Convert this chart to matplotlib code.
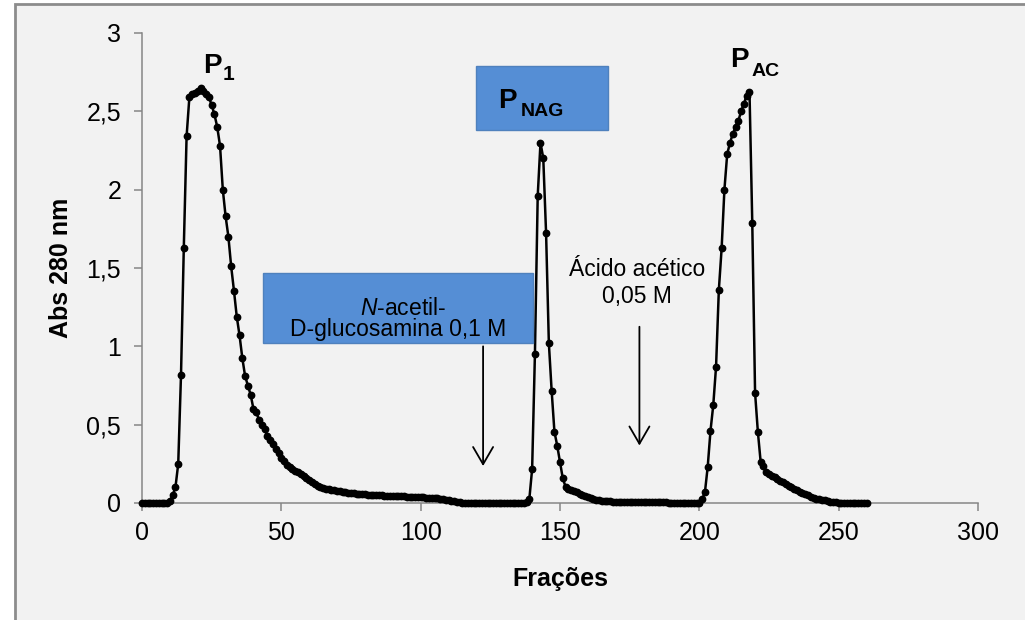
import matplotlib
matplotlib.use('Agg')
import matplotlib.pyplot as plt
from matplotlib.patches import Rectangle

# Data

fractions = list(range(0, 261))

abs_280 = [
    # 0-9
    0, 0, 0, 0, 0, 0, 0, 0, 0, 0,
    # 10-19
    0.01, 0.05, 0.10, 0.25, 0.82, 1.63, 2.34, 2.59, 2.61, 2.62,
    # 20-29
    2.63, 2.65, 2.63, 2.61, 2.59, 2.54, 2.48, 2.40, 2.28, 2.00,
    # 30-39
    1.83, 1.70, 1.51, 1.355, 1.19, 1.07, 0.925, 0.81, 0.75, 0.69,
    # 40-49
    0.60, 0.58, 0.53, 0.50, 0.47, 0.43, 0.40, 0.375, 0.345, 0.32,
    # 50-59
    0.29, 0.27, 0.245, 0.23, 0.215, 0.205, 0.195, 0.185, 0.175, 0.16,
    # 60-69
    0.15, 0.135, 0.12, 0.11, 0.10, 0.095, 0.092, 0.088, 0.085, 0.082,
    # 70-79
    0.078, 0.075, 0.072, 0.07, 0.067, 0.064, 0.062, 0.06, 0.058, 0.056,
    # 80-89
    0.055, 0.053, 0.052, 0.05, 0.05, 0.049, 0.048, 0.047, 0.046, 0.045,
    # 90-99
    0.045, 0.044, 0.043, 0.042, 0.042, 0.041, 0.04, 0.04, 0.039, 0.038,
    # 100-109
    0.037, 0.036, 0.035, 0.034, 0.033, 0.032, 0.03, 0.028, 0.025, 0.022,
    # 110-119
    0.018, 0.014, 0.01, 0.007, 0.004, 0.002, 0, 0, 0, 0,
    # 120-129
    0, 0, 0, 0, 0, 0, 0, 0, 0, 0,
    # 130-139
    0, 0, 0, 0, 0, 0, 0, 0, 0.005, 0.026,
    # 140-149
    0.217, 0.95, 1.96, 2.30, 2.20, 1.725, 1.02, 0.717, 0.455, 0.366,
    # 150-159
    0.26, 0.157, 0.104, 0.09, 0.082, 0.075, 0.068, 0.06, 0.052, 0.045,
    # 160-169
    0.038, 0.031, 0.025, 0.02, 0.016, 0.013, 0.011, 0.010, 0.010, 0.009,
    # 170-179
    0.009, 0.009, 0.008, 0.008, 0.008, 0.007, 0.007, 0.007, 0.006, 0.006,
    # 180-189
    0.006, 0.005, 0.005, 0.005, 0.005, 0.004, 0.004, 0.004, 0.004, 0.003,
    # 190-199
    0.003, 0.003, 0.003, 0.002, 0.002, 0.002, 0.002, 0.001, 0.001, 0.001,
    # 200-209
    0, 0.024, 0.068, 0.23, 0.46, 0.625, 0.87, 1.36, 1.625, 2.0,
    # 210-219
    2.227, 2.30, 2.355, 2.40, 2.44, 2.50, 2.55, 2.60, 2.625, 1.785,
    # 220-229
    0.704, 0.455, 0.264, 0.236, 0.20, 0.185, 0.175, 0.165, 0.155, 0.142,
    # 230-239
    0.132, 0.122, 0.11, 0.10, 0.09, 0.08, 0.07, 0.062, 0.055, 0.048,
    # 240-249
    0.04, 0.034, 0.028, 0.024, 0.02, 0.016, 0.012, 0.009, 0.006, 0.004,
    # 250-260
    0.003, 0.003, 0.002, 0.002, 0.002, 0.001, 0.001, 0.001, 0, 0, 0,
]

x_ticks = [0, 50, 100, 150, 200, 250, 300]
y_ticks = [0, 0.5, 1, 1.5, 2, 2.5, 3]
y_tick_labels = ['0', '0,5', '1', '1,5', '2', '2,5', '3']

# elution arrows (fraction, top, tip)
nag_arrow = (122.4, 1.0, 0.236)
ac_arrow = (178.5, 1.125, 0.367)

W, H = 1025, 620

plt.rcParams['font.family'] = 'Liberation Sans'
plt.rcParams['mathtext.fontset'] = 'custom'
plt.rcParams['mathtext.rm'] = 'Liberation Sans'
plt.rcParams['mathtext.it'] = 'Liberation Sans:italic'

fig = plt.figure(figsize=(W / 100, H / 100), dpi=100)
fig.patch.set_facecolor('white')


def fx(x):
    return x / W


def fy(y):
    return 1 - y / H


# outer chart frame
fig.add_artist(Rectangle((fx(15), -0.1), 1.2, fy(4) + 0.1, transform=fig.transFigure,
                         facecolor='#f2f2f2', edgecolor='#8c8c8c', lw=2, zorder=-5))

ax = fig.add_axes([fx(142), fy(503), fx(978) - fx(142), fy(33) - fy(503)])
ax.set_facecolor('none')

ax.plot(fractions, abs_280, color='black', lw=1.8, marker='o', markersize=4.6,
        clip_on=False, zorder=5)

ax.set_xlim(0, 300)
ax.set_ylim(0, 3)
ax.set_xticks(x_ticks)
ax.set_yticks(y_ticks)
ax.set_yticklabels(y_tick_labels)
ax.tick_params(direction='out', length=6, width=1.1, color='#868686',
               labelsize=18, labelcolor='black')
ax.tick_params(axis='y', pad=9)
ax.tick_params(axis='x', pad=7)

for side in ['top', 'right']:
    ax.spines[side].set_visible(False)
for side in ['left', 'bottom']:
    ax.spines[side].set_color('#868686')
    ax.spines[side].set_linewidth(1.1)

ax.set_xlabel('Frações', fontsize=18, fontweight='bold', labelpad=16)
ax.set_ylabel('Abs 280 nm', fontsize=18, fontweight='bold', labelpad=10)

# arrows
for xa, top, tip in [nag_arrow, ac_arrow]:
    ax.annotate('', xy=(xa, tip), xytext=(xa, top),
                arrowprops=dict(arrowstyle='->,head_length=0.62,head_width=0.36',
                                mutation_scale=20, lw=1.3, color='black',
                                shrinkA=0, shrinkB=0))

# peak labels
fig.text(fx(203), fy(73), 'P', fontsize=20, fontweight='bold', va='baseline')
fig.text(fx(223), fy(80), '1', fontsize=15, fontweight='bold', va='baseline')

fig.add_artist(Rectangle((fx(476), fy(130)), fx(608) - fx(476), fy(66) - fy(130),
                         transform=fig.transFigure, facecolor='#558ed5',
                         edgecolor='#4f81bd', lw=1, zorder=3))
fig.text(fx(498), fy(108), 'P', fontsize=20, fontweight='bold', va='baseline', zorder=4)
fig.text(fx(521), fy(116), 'NAG', fontsize=14, fontweight='bold', va='baseline', zorder=4)

fig.text(fx(730), fy(67), 'P', fontsize=20, fontweight='bold', va='baseline')
fig.text(fx(752), fy(76), 'AC', fontsize=14, fontweight='bold', va='baseline')

# eluent boxes / notes
fig.add_artist(Rectangle((fx(263), fy(343)), fx(533) - fx(263), fy(273) - fy(343),
                         transform=fig.transFigure, facecolor='#558ed5',
                         edgecolor='#4f81bd', lw=1, zorder=3))
fig.text(fx(403), fy(315), r'$\mathit{N}$-acetil-', fontsize=16.5, ha='center',
         va='baseline', zorder=4)
fig.text(fx(398), fy(336), 'D-glucosamina 0,1 M', fontsize=16.5, ha='center',
         va='baseline', zorder=4)

fig.text(fx(637), fy(276), 'Ácido acético', fontsize=16.5, ha='center', va='baseline')
fig.text(fx(637), fy(303), '0,05 M', fontsize=16.5, ha='center', va='baseline')

fig.savefig('out.png', dpi=100)
